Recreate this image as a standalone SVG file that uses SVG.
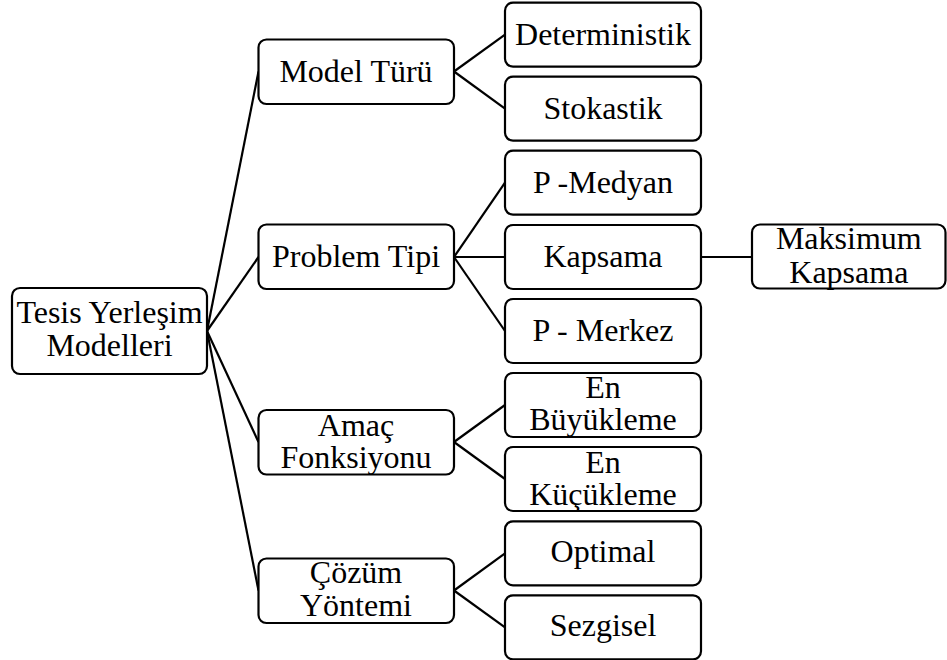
<svg xmlns="http://www.w3.org/2000/svg" width="947" height="660" viewBox="0 0 947 660">
<style>
.box{fill:#fff;stroke:#000;stroke-width:2.2}
.c{stroke:#000;stroke-width:2.2;fill:none}
</style>
<rect width="947" height="660" fill="#fff"/>
<g id="connectors">
<line class="c" x1="207" y1="331" x2="258.5" y2="71.5"/>
<line class="c" x1="207" y1="331" x2="258.5" y2="257"/>
<line class="c" x1="207" y1="331" x2="258.5" y2="442"/>
<line class="c" x1="207" y1="331" x2="258.5" y2="590.5"/>
<line class="c" x1="454" y1="71.5" x2="505" y2="34.7"/>
<line class="c" x1="454" y1="71.5" x2="505" y2="108.7"/>
<line class="c" x1="454" y1="257" x2="505" y2="182.7"/>
<line class="c" x1="454" y1="257" x2="505" y2="257"/>
<line class="c" x1="454" y1="257" x2="505" y2="331"/>
<line class="c" x1="454" y1="442" x2="505" y2="405"/>
<line class="c" x1="454" y1="442" x2="505" y2="479"/>
<line class="c" x1="454" y1="590.5" x2="505" y2="553.3"/>
<line class="c" x1="454" y1="590.5" x2="505" y2="627.3"/>
<line class="c" x1="701" y1="257" x2="752" y2="257"/>
</g>
<g id="root"><rect class="box" x="12" y="288" width="195" height="86" rx="8"/><text x="109.5" y="323.3" style="font-family:'Liberation Serif',serif;font-size:32px" text-anchor="middle">Tesis Yerleşim</text><text x="109.5" y="356" style="font-family:'Liberation Serif',serif;font-size:32px" text-anchor="middle">Modelleri</text></g>
<g id="model-turu"><rect class="box" x="258.5" y="39.5" width="195.5" height="64.5" rx="8"/><text x="356" y="82.3" style="font-family:'Liberation Serif',serif;font-size:32px" text-anchor="middle">Model Türü</text></g>
<g id="problem-tipi"><rect class="box" x="258.5" y="224.5" width="195.5" height="64.5" rx="8"/><text x="356" y="267.3" style="font-family:'Liberation Serif',serif;font-size:32px" text-anchor="middle">Problem Tipi</text></g>
<g id="amac"><rect class="box" x="258.5" y="410" width="195.5" height="64.5" rx="8"/><text x="356" y="436" style="font-family:'Liberation Serif',serif;font-size:32px" text-anchor="middle">Amaç</text><text x="356" y="468.3" style="font-family:'Liberation Serif',serif;font-size:32px" text-anchor="middle">Fonksiyonu</text></g>
<g id="cozum"><rect class="box" x="258.5" y="558.5" width="195.5" height="64.5" rx="8"/><text x="356" y="583.3" style="font-family:'Liberation Serif',serif;font-size:32px" text-anchor="middle">Çözüm</text><text x="356" y="616" style="font-family:'Liberation Serif',serif;font-size:32px" text-anchor="middle">Yöntemi</text></g>
<g id="deterministik"><rect class="box" x="505" y="2.7" width="196" height="64" rx="8"/><text x="603" y="45" style="font-family:'Liberation Serif',serif;font-size:32px" text-anchor="middle">Deterministik</text></g>
<g id="stokastik"><rect class="box" x="505" y="76.7" width="196" height="64" rx="8"/><text x="603" y="118.5" style="font-family:'Liberation Serif',serif;font-size:32px" text-anchor="middle">Stokastik</text></g>
<g id="p-medyan"><rect class="box" x="505" y="150.7" width="196" height="64" rx="8"/><text x="603" y="192.7" style="font-family:'Liberation Serif',serif;font-size:32px" text-anchor="middle">P -Medyan</text></g>
<g id="kapsama"><rect class="box" x="505" y="225" width="196" height="64" rx="8"/><text x="603" y="266.7" style="font-family:'Liberation Serif',serif;font-size:32px" text-anchor="middle">Kapsama</text></g>
<g id="p-merkez"><rect class="box" x="505" y="299" width="196" height="64" rx="8"/><text x="603" y="341" style="font-family:'Liberation Serif',serif;font-size:32px" text-anchor="middle">P - Merkez</text></g>
<g id="en-buyukleme"><rect class="box" x="505" y="373" width="196" height="64" rx="8"/><text x="603" y="398.3" style="font-family:'Liberation Serif',serif;font-size:32px" text-anchor="middle">En</text><text x="603" y="430" style="font-family:'Liberation Serif',serif;font-size:32px" text-anchor="middle">Büyükleme</text></g>
<g id="en-kucukleme"><rect class="box" x="505" y="447" width="196" height="64" rx="8"/><text x="603" y="472.7" style="font-family:'Liberation Serif',serif;font-size:32px" text-anchor="middle">En</text><text x="603" y="505" style="font-family:'Liberation Serif',serif;font-size:32px" text-anchor="middle">Küçükleme</text></g>
<g id="optimal"><rect class="box" x="505" y="521.3" width="196" height="64" rx="8"/><text x="603" y="561.7" style="font-family:'Liberation Serif',serif;font-size:32px" text-anchor="middle">Optimal</text></g>
<g id="sezgisel"><rect class="box" x="505" y="595.3" width="196" height="64" rx="8"/><text x="603" y="636" style="font-family:'Liberation Serif',serif;font-size:32px" text-anchor="middle">Sezgisel</text></g>
<g id="maksimum-kapsama"><rect class="box" x="752" y="224.5" width="193.5" height="64" rx="8"/><text x="848.8" y="249.3" style="font-family:'Liberation Serif',serif;font-size:32px" text-anchor="middle">Maksimum</text><text x="848.8" y="283.3" style="font-family:'Liberation Serif',serif;font-size:32px" text-anchor="middle">Kapsama</text></g>
</svg>
